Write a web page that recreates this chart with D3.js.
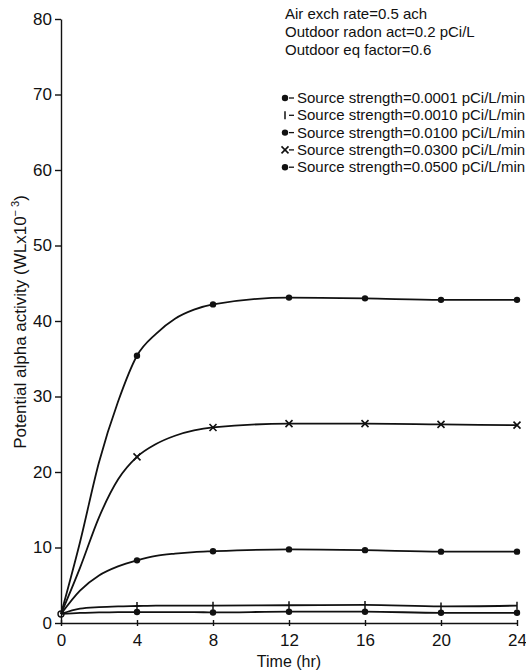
<!DOCTYPE html>
<html>
<head>
<meta charset="utf-8">
<script src="https://cdn.jsdelivr.net/npm/d3@7"></script>
<style>
  body { margin: 0; background: #fff; }
  text { font-family: "Liberation Sans", Arial, sans-serif; fill: #111; }
</style>
</head>
<body>
<svg width="526" height="672"></svg>
<script>
// hours, markers only every 4 hr
var hours = [0, 1, 2, 3, 4, 5, 6, 7, 8, 12, 16, 20, 24];
var markerHours = [4, 8, 12, 16, 20, 24];
var xTicks = [0, 4, 8, 12, 16, 20, 24];
var yTicks = [0, 10, 20, 30, 40, 50, 60, 70, 80];

var s0001 = [1.2, 1.35, 1.4, 1.45, 1.45, 1.45, 1.45, 1.45, 1.4, 1.5, 1.5, 1.35, 1.35];
var s0010 = [1.2, 1.9, 2.1, 2.2, 2.25, 2.3, 2.3, 2.3, 2.3, 2.35, 2.4, 2.2, 2.3];
var s0100 = [1.2, 4.3, 6.3, 7.5, 8.3, 8.9, 9.2, 9.4, 9.5, 9.75, 9.65, 9.45, 9.45];
var s0300 = [1.2, 7.3, 14.0, 19.0, 22.0, 23.7, 24.8, 25.5, 25.9, 26.4, 26.4, 26.3, 26.2];
var s0500 = [1.2, 10.7, 21.3, 29.3, 35.4, 38.3, 40.3, 41.5, 42.2, 43.1, 43.0, 42.8, 42.8];

var notes = ["Air exch rate=0.5 ach", "Outdoor radon act=0.2 pCi/L", "Outdoor eq factor=0.6"];
var legendLabels = [
  "Source strength=0.0001 pCi/L/min",
  "Source strength=0.0010 pCi/L/min",
  "Source strength=0.0100 pCi/L/min",
  "Source strength=0.0300 pCi/L/min",
  "Source strength=0.0500 pCi/L/min"
];
var symbols = ["dot", "plus", "dot", "cross", "dot"];
var series = [s0001, s0010, s0100, s0300, s0500];

var svg = d3.select("svg");
var ink = "#111";

var x = d3.scaleLinear().domain([0, 24]).range([61, 517]);
var y = d3.scaleLinear().domain([0, 80]).range([623, 19]);

// axes
var xAxis = svg.append("g")
    .attr("transform", "translate(0," + y(0) + ")")
    .call(d3.axisBottom(x).tickValues(xTicks).tickSizeOuter(0).tickSizeInner(3).tickPadding(8));
xAxis.selectAll(".tick line").attr("y1", -3).attr("y2", 3);

var yAxis = svg.append("g")
    .attr("transform", "translate(" + x(0) + ",0)")
    .call(d3.axisLeft(y).tickValues(yTicks).tickSizeOuter(0).tickSizeInner(6).tickPadding(3));

svg.selectAll(".domain, .tick line").attr("stroke", ink).attr("stroke-width", 1.4);
svg.selectAll(".tick text")
    .style("font-size", "17px")
    .style("font-family", "Liberation Sans, Arial, sans-serif")
    .attr("fill", ink);

svg.append("text")
    .attr("x", 289)
    .attr("y", 667)
    .attr("text-anchor", "middle")
    .style("font-size", "16px")
    .text("Time (hr)");

var ylab = svg.append("text")
    .attr("transform", "translate(26,322) rotate(-90)")
    .attr("text-anchor", "middle")
    .style("font-size", "17px");
ylab.append("tspan").text("Potential alpha activity (WLx10");
ylab.append("tspan").attr("dy", -7).style("font-size", "11px").text("\u2212 3");
ylab.append("tspan").attr("dy", 7).text(")");

// curves
var line = d3.line()
    .x(function(d) { return x(d[0]); })
    .y(function(d) { return y(d[1]); })
    .curve(d3.curveMonotoneX);

function drawSymbol(g, kind, cx, cy) {
  if (kind == "dot") {
    g.append("circle").attr("cx", cx).attr("cy", cy).attr("r", 3.2).attr("fill", ink);
  } else if (kind == "plus") {
    g.append("line").attr("x1", cx).attr("x2", cx).attr("y1", cy - 4).attr("y2", cy + 4)
        .attr("stroke", ink).attr("stroke-width", 1.5);
  } else {
    g.append("path")
        .attr("d", "M" + (cx - 3.5) + "," + (cy - 3.5) + "L" + (cx + 3.5) + "," + (cy + 3.5) +
                   "M" + (cx - 3.5) + "," + (cy + 3.5) + "L" + (cx + 3.5) + "," + (cy - 3.5))
        .attr("stroke", ink).attr("stroke-width", 1.6);
  }
}

series.forEach(function(vals, i) {
  var pts = hours.map(function(h, j) { return [h, vals[j]]; });
  svg.append("path")
      .datum(pts)
      .attr("d", line)
      .attr("fill", "none")
      .attr("stroke", ink)
      .attr("stroke-width", 1.8);
  var g = svg.append("g");
  pts.filter(function(p) { return markerHours.indexOf(p[0]) >= 0; })
     .forEach(function(p) { drawSymbol(g, symbols[i], x(p[0]), y(p[1])); });
});

// little open mark at the common start point
svg.append("circle")
    .attr("cx", x(0))
    .attr("cy", y(s0500[0]))
    .attr("r", 3)
    .attr("fill", "none")
    .attr("stroke", ink)
    .attr("stroke-width", 1.4);

// notes and legend
svg.selectAll(".note")
    .data(notes)
    .enter()
    .append("text")
    .attr("x", 285)
    .attr("y", function(d, i) { return 19 + i * 18; })
    .style("font-size", "15px")
    .text(function(d) { return d; });

var legend = svg.append("g");
legendLabels.forEach(function(lab, i) {
  var ly = 98 + i * 17.3;
  drawSymbol(legend, symbols[i], 285, ly);
  legend.append("line").attr("x1", 289).attr("x2", 294)
      .attr("y1", ly).attr("y2", ly).attr("stroke", ink).attr("stroke-width", 1.3);
  legend.append("text")
      .attr("x", 297)
      .attr("y", ly + 5)
      .style("font-size", "15px")
      .text(lab);
});
</script>
</body>
</html>
